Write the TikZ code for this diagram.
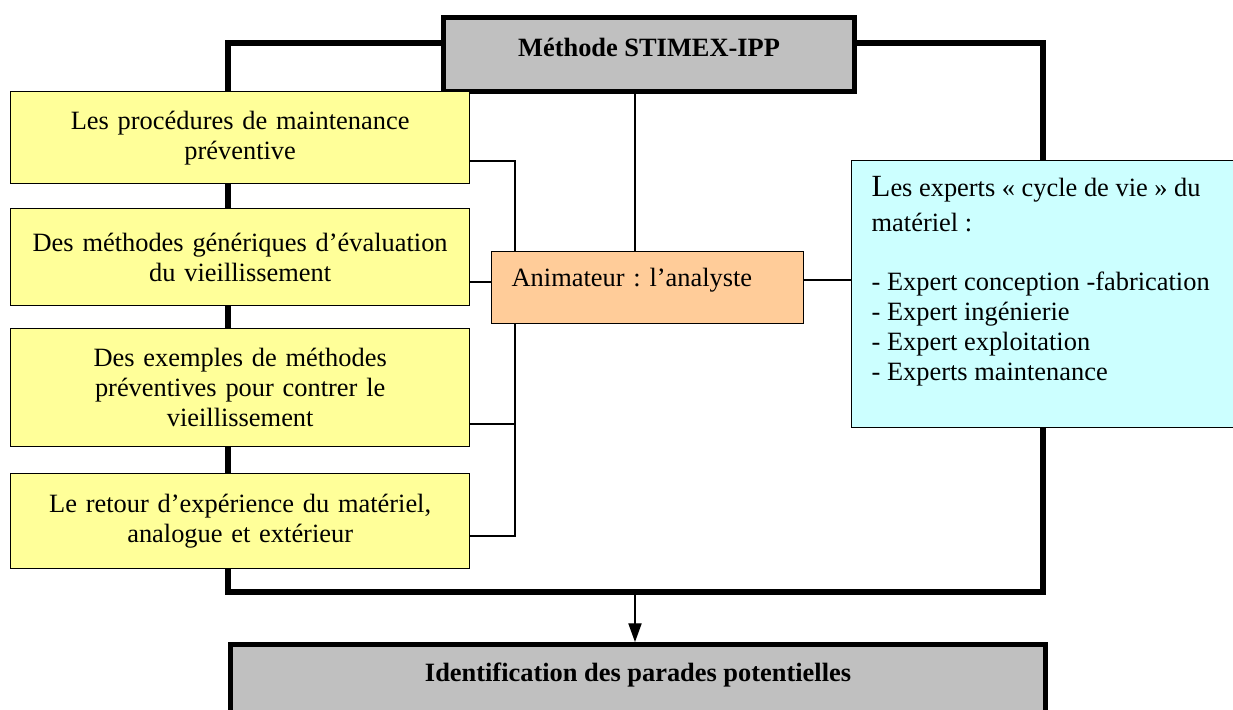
\documentclass[tikz,border=0pt]{standalone}
\usepackage{fontspec}
\setmainfont{Liberation Serif}
\usetikzlibrary{arrows.meta}

\definecolor{boxyellow}{HTML}{FFFF99}
\definecolor{boxorange}{HTML}{FFCC99}
\definecolor{boxcyan}{HTML}{CCFFFF}
\definecolor{boxgray}{HTML}{C0C0C0}
\newcommand{\px}{0.4545pt}
\frenchspacing

\begin{document}
\begin{tikzpicture}[x=\px, y=-\px,
  font=\fontsize{12}{13.6}\selectfont,
  link/.style={line width=0.6pt},
  heavy/.style={line width=2.3pt},
  yellowbox/.style={draw, link, fill=boxyellow, anchor=north west, minimum width=459*\px, text width=440*\px, inner sep=0pt, align=center}]

  \useasboundingbox (0,0) rectangle (1233,709);

  % outer frame
  \draw[heavy] (228,43) rectangle (1043,592);

  % method title
  \node[draw, heavy, fill=boxgray, anchor=north west, minimum width=411*\px, minimum height=74*\px, font=\fontsize{12}{13.6}\selectfont\bfseries, text depth=7pt] (box-method) at (441,15) {Méthode STIMEX-IPP};

  % inputs on the left
  \node[yellowbox, minimum height=92*\px] (box-prev) at (10,91) {Les procédures de maintenance\\ préventive};
  \node[yellowbox, minimum height=97*\px] (box-gen) at (10,208) {Des méthodes génériques d’évaluation\\ du vieillissement};
  \node[yellowbox, minimum height=118*\px] (box-ex) at (10,328) {Des exemples de méthodes\\ préventives pour contrer le\\ vieillissement};
  \node[yellowbox, minimum height=95*\px] (box-rex) at (10,473) {Le retour d’expérience du matériel,\\ analogue et extérieur};

  % animator
  \node[draw, link, fill=boxorange, anchor=north west, minimum width=312*\px, minimum height=72*\px, text width=272*\px, inner xsep=20*\px, inner ysep=0pt, align=left, text height=10pt, text depth=11.3pt] (box-anim) at (491,251) {Animateur : l’analyste};

  % experts on the right
  \node[draw, link, fill=boxcyan, anchor=north west, minimum width=400*\px, minimum height=267*\px, inner xsep=20*\px, inner ysep=0pt] (box-experts) at (851,160)
    {\parbox[c][121.3pt][t]{163.6pt}{\raggedright
      \rule{0pt}{16.4pt}{\fontsize{14}{13.6}\selectfont L}es experts «~cycle de vie~» du\\[2pt]
      matériel :\\[13.6pt]
      - Expert conception -fabrication\\
      - Expert ingénierie\\
      - Expert exploitation\\
      - Experts maintenance}};

  % result
  \node[draw, heavy, fill=boxgray, anchor=north west, minimum width=815*\px, minimum height=90*\px, font=\fontsize{12}{13.6}\selectfont\bfseries, text depth=16pt] (box-parades) at (228,642) {Identification des parades potentielles};

  % bus taps
  \coordinate (tap-prev) at (515,161);
  \coordinate (tap-gen) at (515,282);
  \coordinate (tap-ex) at (515,424);
  \coordinate (tap-rex) at (515,536);
  \coordinate (spine) at (635,280);
  \coordinate (frame-bottom) at (635,592);

  % links
  \draw[link] (box-prev.east |- tap-prev) -- (tap-prev) -- (box-anim.north -| tap-prev);
  \draw[link] (box-gen.east |- tap-gen) -- (box-anim.west |- tap-gen);
  \draw[link] (box-ex.east |- tap-ex) -- (tap-ex);
  \draw[link] (box-anim.south -| tap-ex) -- (tap-rex) -- (box-rex.east |- tap-rex);
  \draw[link] (box-method.south -| spine) -- (box-anim.north -| spine);
  \draw[link] (box-anim.east |- spine) -- (box-experts.west |- spine);

  % arrow to result
  \draw[link, -{Triangle[length=8.5pt, width=6pt]}] (frame-bottom) -- (box-parades.north -| frame-bottom);

\end{tikzpicture}
\end{document}
